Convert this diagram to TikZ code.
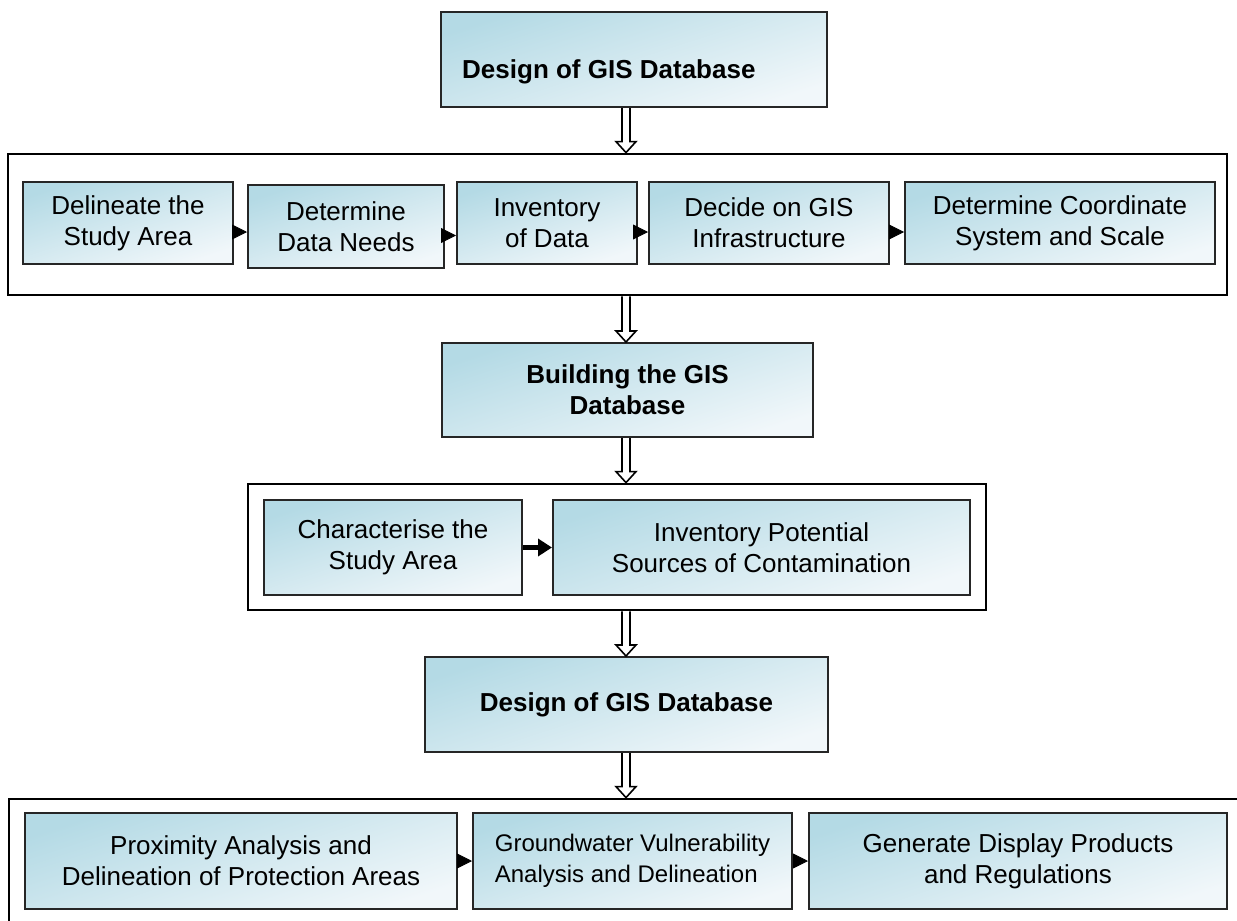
\documentclass[tikz,border=0pt]{standalone}
\usepackage{fontspec}
\setmainfont{Liberation Sans}
\usetikzlibrary{arrows.meta,calc}
\definecolor{boxblue}{RGB}{180,218,229}
\definecolor{boxpale}{RGB}{241,247,250}

\begin{document}
\begin{tikzpicture}[x=1pt,y=-1pt,
  stepbox/.style={draw=black!85, line width=2pt, inner sep=0pt, align=center,
    top color=boxblue, bottom color=boxpale, shading angle=18,
    font=\fontsize{26}{31}\selectfont},
  frame/.style={draw, line width=2.8pt, inner sep=0pt},
  flow/.style={-{Triangle[length=15pt,width=15pt]}, line width=0.8pt},
  hollow/.style={draw, fill=white, line width=1.6pt, line join=miter}]

  \path[use as bounding box, clip] (0,0) rectangle (1237,921);

  % stage frames
  \node[frame, minimum width=1219pt, minimum height=141pt] (f1) at (617.5,224.5) {};
  \node[frame, minimum width=738pt, minimum height=126pt] (f2) at (617,547) {};
  \node[frame, minimum width=1260pt, minimum height=150pt] (f3) at (639,874) {};

  % stage titles
  \node[stepbox, minimum width=386pt, minimum height=95pt] (t1) at (634,59.5) {};
  \node[font=\fontsize{26}{31}\selectfont\bfseries, anchor=base west, inner sep=0pt]
    (t1label) at (462,78) {Design of GIS Database};
  \node[stepbox, font=\fontsize{26}{31}\selectfont\bfseries,
    minimum width=371pt, minimum height=94pt] (g1) at (627.5,390) {Building the GIS\\Database};
  \node[stepbox, font=\fontsize{26}{31}\selectfont\bfseries,
    minimum width=403pt, minimum height=95pt] (d2) at (626.5,704.5) {Design of GIS Database};

  % first row
  \foreach \name/\cx/\cy/\w/\h/\txt in {
      b1/128/223/210/82/{Delineate the\\Study Area},
      b2/346/226.5/196/83/{Determine\\Data Needs},
      b3/547/223/180/82/{Inventory\\of Data},
      b4/769/223/240/82/{Decide on GIS\\Infrastructure},
      b5/1060/223/310/82/{Determine Coordinate\\System and Scale}}
    \node[stepbox, minimum width=\w pt, minimum height=\h pt] (\name) at (\cx,\cy) {\txt};
  \foreach \a/\b in {b1/b2,b2/b3,b3/b4,b4/b5}
    \draw[flow] ([yshift=-9pt]\a.east) -- ([yshift=-9pt]\a.east -| \b.west);

  % second row
  \node[stepbox, minimum width=258pt, minimum height=95pt] (c1) at (393,547.5) {Characterise the\\Study Area};
  \node[stepbox, minimum width=417pt, minimum height=95pt] (c2) at (761.5,547.5) {Inventory Potential\\Sources of Contamination};
  \draw[-{Triangle[length=14pt,width=17pt]}, line width=5pt] (c1) -- (c2);

  % third row
  \node[stepbox, minimum width=432pt, minimum height=96pt] (e1) at (241,861)
    {Proximity Analysis and\\Delineation of Protection Areas};
  \node[stepbox, align=left, font=\fontsize{24}{31}\selectfont,
    minimum width=319pt, minimum height=96pt] (e2) at (632.5,861)
    {Groundwater Vulnerability\\Analysis and Delineation};
  \node[stepbox, minimum width=418pt, minimum height=96pt] (e3) at (1018,861)
    {Generate Display Products\\and Regulations};
  \foreach \a/\b in {e1/e2,e2/e3}
    \draw[flow] (\a) -- (\b);

  % hollow arrows between stages
  \coordinate (axis) at (626,0);
  \foreach \a/\b in {t1/f1,f1/g1,g1/f2,f2/d2,d2/f3}
    \draw[hollow] ($(\a.south -| axis)+(-4,0)$) -- ($(\b.north -| axis)+(-4,-11)$)
      -- ++(-6,0) -- (\b.north -| axis) -- ($(\b.north -| axis)+(10,-11)$)
      -- ++(-6,0) -- ($(\a.south -| axis)+(4,0)$);

\end{tikzpicture}
\end{document}
